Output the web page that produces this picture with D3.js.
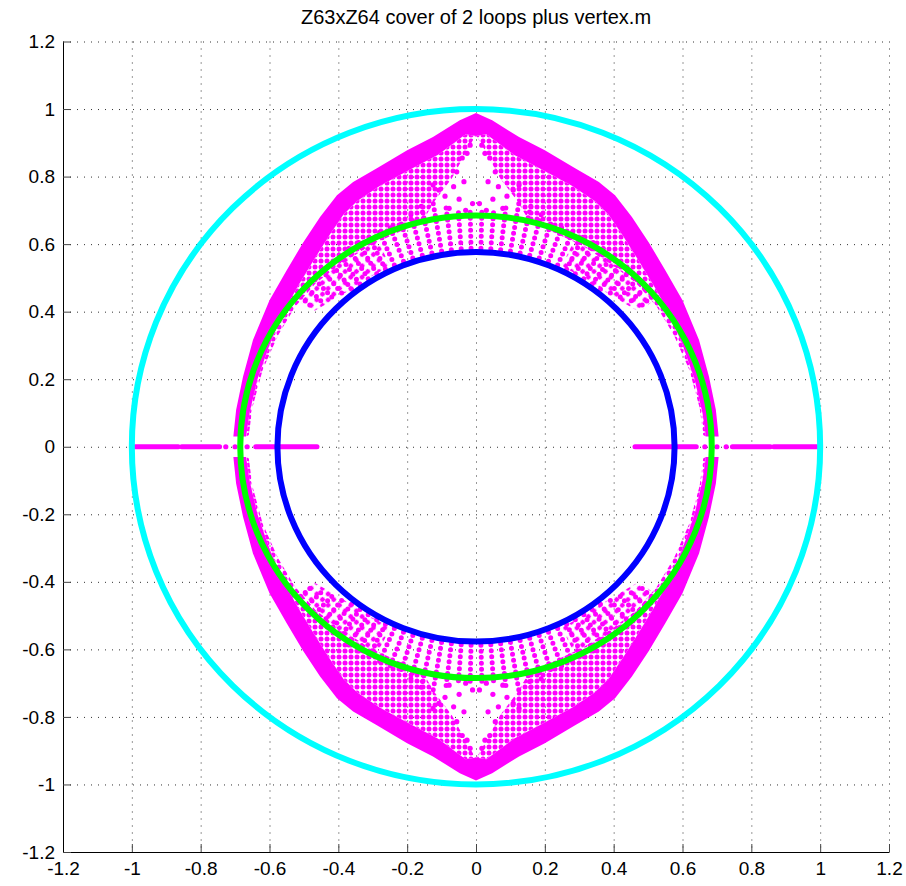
<!DOCTYPE html>
<html>
<head>
<meta charset="utf-8">
<title>Z63xZ64 cover of 2 loops plus vertex.m</title>
<script src="https://d3js.org/d3.v7.min.js"></script>
<style>
body { margin:0; background:#fff; }
text { font-family: "Liberation Sans", Arial, sans-serif; fill:#000; }
</style>
</head>
<body>
<svg id="chart" width="906" height="886"></svg>
<script>
// axis ticks
var tickValues = [-1.2,-1,-0.8,-0.6,-0.4,-0.2,0,0.2,0.4,0.6,0.8,1,1.2];
var tickLabels = ["-1.2","-1","-0.8","-0.6","-0.4","-0.2","0","0.2","0.4","0.6","0.8","1","1.2"];

// circles (radius, colour)
var circleRadii = [1, 0.685, 0.577];
var circleColors = ["#00ffff", "#00ff00", "#0000ff"];

// magenta cloud (picture is symmetric in both axes)
var outerEdge = [[0,0.988],[-0.047,0.967],[-0.125,0.917],[-0.2,0.878],[-0.288,0.825],[-0.357,0.784],
  [-0.404,0.745],[-0.453,0.68],[-0.503,0.603],[-0.55,0.523],[-0.6,0.434],[-0.648,0.316],
  [-0.677,0.207],[-0.697,0.109],[-0.705,0.03]];
var solidInner = [[0,0.92],[-0.03,0.925],[-0.11,0.865],[-0.19,0.822],[-0.28,0.772],[-0.345,0.728],
  [-0.385,0.688],[-0.425,0.628],[-0.47,0.555],[-0.515,0.48],[-0.56,0.398],[-0.6,0.302],
  [-0.635,0.2],[-0.658,0.1],[-0.668,0.03]];
var dotInner = [[-0.005,0.915],[-0.03,0.87],[-0.07,0.795],[-0.12,0.728],[-0.155,0.668],[-0.236,0.63],
  [-0.31,0.595],[-0.4,0.535],[-0.465,0.485],[-0.525,0.415],[-0.575,0.33],[-0.62,0.227],[-0.65,0.115],[-0.66,0.035]];
// hatched band between the blue and green circles
var hatchZone = [[-0.292,0.625],[-0.376,0.579],[-0.453,0.521],[-0.529,0.444],
  [-0.475,0.399],[-0.39,0.449],[-0.321,0.495],[-0.249,0.535]];
var spokeAngles = [88.6,85.8,83,80.2,77.4,74.6,71.8,69,66.2,63.4,60.6,57.8,55,52.2,49.4,46.6,43.8,41];
var spokeInner = [0.588,0.588,0.588,0.588,0.588,0.588,0.588,0.588,0.588,0.588,0.588,0.588,0.588,0.59,0.6,0.61,0.625,0.64];
var spokeOuter = [0.70,0.71,0.72,0.74,0.74,0.72,0.71,0.71,0.71,0.71,0.70,0.70,0.69,0.69,0.69,0.69,0.69,0.69];
var wedgeDots = [[-0.049,0.733],[-0.056,0.814],[-0.026,0.869],[-0.017,0.893],[-0.04,0.855],[-0.035,0.785],
  [-0.078,0.706],[-0.108,0.76],[-0.09,0.742],[-0.125,0.775],[-0.01,0.72],[-0.065,0.77],[-0.03,0.70]];
// real axis pieces (positive side, mirrored)
var axisSegments = [[0.462,0.64],[0.745,0.855],[0.865,0.99]];
var axisDots = [0.665,0.70,0.727];

var quads = [[1,1],[-1,1],[1,-1],[-1,-1]];

var svg = d3.select("#chart");
var x = d3.scaleLinear().domain([-1.2,1.2]).range([63,889]);
var y = d3.scaleLinear().domain([-1.2,1.2]).range([852,41.5]);
var magenta = "#ff00ff";

var defs = svg.append("defs");
defs.append("pattern").attr("id","dots").attr("patternUnits","userSpaceOnUse")
  .attr("width",6).attr("height",6)
  .append("circle").attr("cx",3).attr("cy",3).attr("r",2.5).attr("fill",magenta);
defs.append("pattern").attr("id","sparse").attr("patternUnits","userSpaceOnUse")
  .attr("width",8).attr("height",8).attr("patternTransform","rotate(45)")
  .append("circle").attr("cx",4).attr("cy",4).attr("r",2.4).attr("fill",magenta);

// grid
var grid = svg.append("g").attr("stroke","#333").attr("stroke-width",1).attr("stroke-dasharray","1,6");
grid.selectAll(".gx").data(tickValues).enter().append("line")
  .attr("x1",d=>x(d)+0.5).attr("x2",d=>x(d)+0.5).attr("y1",y(1.2)).attr("y2",y(-1.2));
grid.selectAll(".gy").data(tickValues).enter().append("line")
  .attr("y1",d=>y(d)+0.5).attr("y2",d=>y(d)+0.5).attr("x1",x(-1.2)).attr("x2",x(1.2));

// magenta points
var line = d3.line().x(d=>x(d[0])).y(d=>y(d[1]));
function mirror(pts, q) { return pts.map(p => [p[0]*q[0], p[1]*q[1]]); }
var cloud = svg.append("g");

quads.forEach(function(q) {
  cloud.append("path").attr("d", line(mirror(hatchZone, q)) + "Z").attr("fill","url(#sparse)");
  var dz = mirror(solidInner.concat(dotInner.slice().reverse()), q);
  cloud.append("path").attr("d", line(dz) + "Z").attr("fill","url(#dots)");
  var sz = mirror(outerEdge.concat(solidInner.slice().reverse()), q);
  cloud.append("path").attr("d", line(sz) + "Z").attr("fill",magenta);

  spokeAngles.forEach(function(a, i) {
    var t = a * Math.PI / 180;
    var pts = mirror([[-spokeInner[i]*Math.cos(t), spokeInner[i]*Math.sin(t)],
                      [-spokeOuter[i]*Math.cos(t), spokeOuter[i]*Math.sin(t)]], q);
    cloud.append("path").attr("d", line(pts)).attr("stroke",magenta).attr("stroke-width",5)
      .attr("stroke-linecap","round").attr("stroke-dasharray","0,6").attr("fill","none");
  });

  cloud.selectAll(null).data(mirror(wedgeDots, q)).enter().append("circle")
    .attr("cx",d=>x(d[0])).attr("cy",d=>y(d[1])).attr("r",2.6).attr("fill",magenta);
});

[1,-1].forEach(function(s) {
  axisSegments.forEach(function(sg) {
    cloud.append("line").attr("x1",x(sg[0]*s)).attr("x2",x(sg[1]*s)).attr("y1",y(0)).attr("y2",y(0))
      .attr("stroke",magenta).attr("stroke-width",5).attr("stroke-linecap","round");
  });
  cloud.selectAll(null).data(axisDots).enter().append("circle")
    .attr("cx",d=>x(d*s)).attr("cy",y(0)).attr("r",2.6).attr("fill",magenta);
});

// circles
svg.append("g").selectAll("ellipse").data(circleRadii).enter().append("ellipse")
  .attr("cx",x(0)).attr("cy",y(0))
  .attr("rx",d=>x(d)-x(0)).attr("ry",d=>y(0)-y(d))
  .attr("fill","none").attr("stroke",(d,i)=>circleColors[i]).attr("stroke-width",6);

// axes
var fmt = d => tickLabels[tickValues.indexOf(Math.round(d*10)/10)];
var xAxis = d3.axisBottom(x).tickValues(tickValues).tickFormat(fmt).tickSizeInner(-8).tickSizeOuter(0).tickPadding(10);
var yAxis = d3.axisLeft(y).tickValues(tickValues).tickFormat(fmt).tickSizeInner(-8).tickSizeOuter(0).tickPadding(8);
var gx = svg.append("g").attr("transform","translate(0,852)").call(xAxis);
var gy = svg.append("g").attr("transform","translate(63,0)").call(yAxis);
[gx, gy].forEach(function(g) {
  g.selectAll("text").attr("font-size",19).attr("font-family","Liberation Sans, Arial, sans-serif").attr("fill","#000");
  g.select(".domain").attr("stroke","#000");
  g.selectAll(".tick line").attr("stroke","#444");
});

svg.append("text").attr("x",x(0)).attr("y",24).attr("text-anchor","middle").attr("font-size",20)
  .text("Z63xZ64 cover of 2 loops plus vertex.m");
</script>
</body>
</html>
